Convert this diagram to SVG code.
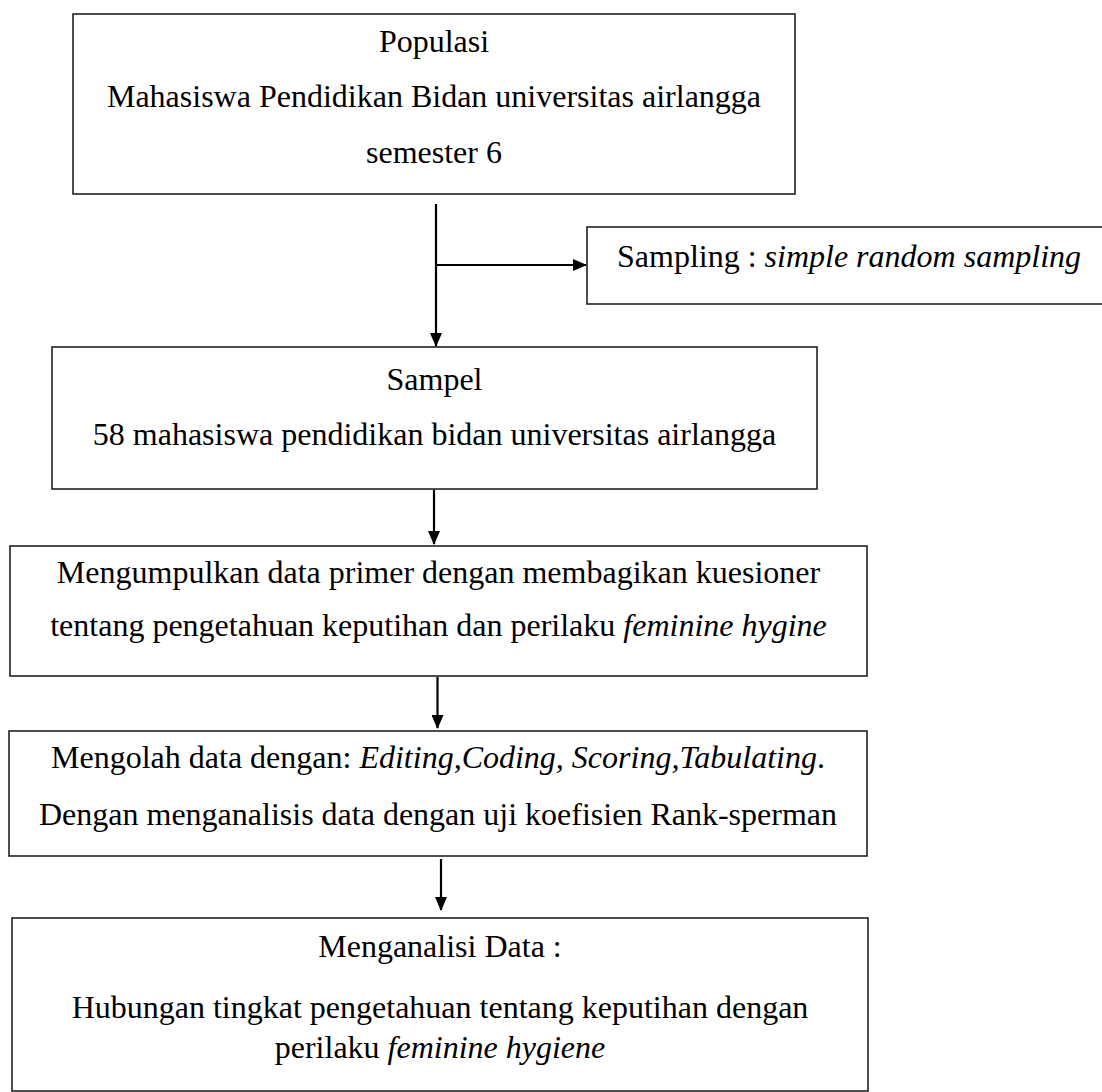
<svg xmlns="http://www.w3.org/2000/svg" width="1102" height="1092" viewBox="0 0 1102 1092">
<style>
.box{fill:#fff;stroke:#222;stroke-width:1.6}
.t{font-family:"Liberation Serif","Times New Roman",serif;font-size:32px;fill:#000}
.c{text-anchor:middle}
.i{font-style:italic}
.ln{stroke:#000;stroke-width:2.2;fill:none}
</style>
<defs>
<marker id="ah" markerWidth="14" markerHeight="12" refX="13" refY="6" orient="auto" markerUnits="userSpaceOnUse">
<path d="M0,0 L14,6 L0,12 Z" fill="#000"/>
</marker>
</defs>
<rect width="1102" height="1092" fill="#fff"/>
<g id="populasi">
<rect class="box" x="73" y="14" width="722" height="180"/>
<text class="t c" x="434" y="52">Populasi</text>
<text class="t c" x="434" y="107">Mahasiswa Pendidikan Bidan universitas airlangga</text>
<text class="t c" x="434" y="163">semester 6</text>
</g>
<g id="sampling">
<rect class="box" x="587" y="227" width="520" height="77"/>
<text class="t" x="617" y="267">Sampling : <tspan class="i">simple random sampling</tspan></text>
</g>
<g id="sampel">
<rect class="box" x="52" y="347" width="765" height="142"/>
<text class="t c" x="434.5" y="390">Sampel</text>
<text class="t c" x="434.5" y="445">58 mahasiswa pendidikan bidan universitas airlangga</text>
</g>
<g id="pengumpulan">
<rect class="box" x="10" y="546" width="857" height="130"/>
<text class="t c" x="438.5" y="583">Mengumpulkan data primer dengan membagikan kuesioner</text>
<text class="t c" x="438.5" y="636">tentang pengetahuan keputihan dan perilaku <tspan class="i">feminine hygine</tspan></text>
</g>
<g id="pengolahan">
<rect class="box" x="9" y="731" width="858" height="125"/>
<text class="t c" x="438" y="768">Mengolah data dengan: <tspan class="i">Editing,Coding, Scoring,Tabulating</tspan>.</text>
<text class="t c" x="438" y="825">Dengan menganalisis data dengan uji koefisien Rank-sperman</text>
</g>
<g id="analisis">
<rect class="box" x="12" y="918" width="856" height="173"/>
<text class="t c" x="440" y="957">Menganalisi Data :</text>
<text class="t c" x="440" y="1018">Hubungan tingkat pengetahuan tentang keputihan dengan</text>
<text class="t c" x="440" y="1058">perilaku <tspan class="i">feminine hygiene</tspan></text>
</g>
<g id="connectors">
<line class="ln" x1="436" y1="204" x2="436" y2="346" marker-end="url(#ah)"/>
<line class="ln" x1="436" y1="265" x2="586" y2="265" marker-end="url(#ah)"/>
<line class="ln" x1="434" y1="490" x2="434" y2="544" marker-end="url(#ah)"/>
<line class="ln" x1="437.5" y1="677" x2="437.5" y2="728" marker-end="url(#ah)"/>
<line class="ln" x1="441" y1="859" x2="441" y2="910" marker-end="url(#ah)"/>
</g>
</svg>
